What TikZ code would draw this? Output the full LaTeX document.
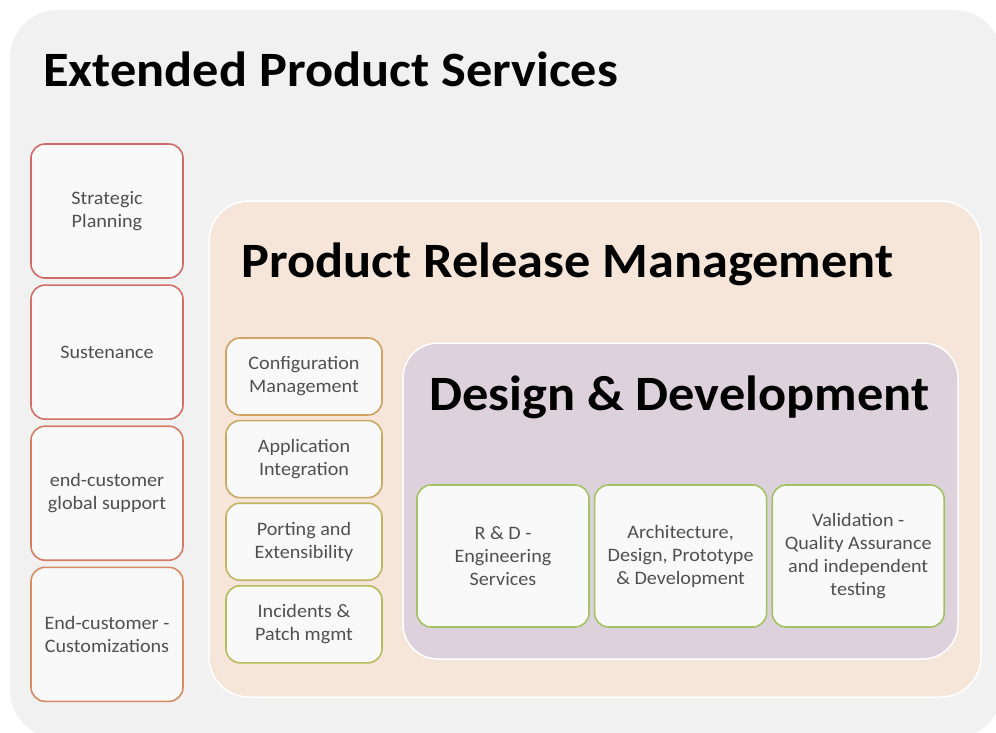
\documentclass[tikz,border=0pt]{standalone}
\usepackage{fontspec}
\setmainfont{Carlito}[FakeStretch=1.06]
\usetikzlibrary{positioning}
\definecolor{extgray}{HTML}{F1F1F1}
\definecolor{peach}{HTML}{F6E5D9}
\definecolor{lilac}{HTML}{DDD1DC}
\definecolor{boxwhite}{HTML}{FAF9F9}
\definecolor{textgray}{HTML}{505050}
\definecolor{redA}{HTML}{D06A68}
\definecolor{redB}{HTML}{D27068}
\definecolor{redC}{HTML}{D47C64}
\definecolor{redD}{HTML}{D78B62}
\definecolor{tanA}{HTML}{D2A062}
\definecolor{tanB}{HTML}{C9AA62}
\definecolor{tanC}{HTML}{C0B462}
\definecolor{tanD}{HTML}{B5BC5E}
\definecolor{leaf}{HTML}{A3C265}

\begin{document}
\begin{tikzpicture}[x=1pt, y=-1pt,
        panel/.style={draw=white, line width=1.5pt},
        task/.style={draw, line width=1.6pt, fill=boxwhite, rounded corners=14pt,
                     align=center, text=textgray, inner sep=0pt,
                     font=\fontsize{19}{23}\selectfont},
        side/.style={task, minimum width=152pt, minimum height=134pt},
        stage/.style={task, minimum width=156pt, minimum height=77pt},
        core/.style={task, minimum width=172pt, minimum height=142pt},
        heading/.style={anchor=base west, inner sep=0pt, font=\bfseries\fontsize{49.4}{50}\selectfont}
    ]

    \useasboundingbox (0,0) rectangle (996,732);
    \clip (0,0) rectangle (996,732);

    % panels
    \fill[extgray, rounded corners=48pt] (10,10) rectangle (1002,738);
    \draw[panel, fill=peach, rounded corners=40pt] (209,201) rectangle (981,697);
    \draw[panel, fill=lilac, rounded corners=35pt] (403,343) rectangle (958,659);

    \node[heading] (extTitle) at (43,86) {Extended Product Services};
    \node[heading] (prmTitle) at (241,277) {Product Release Management};
    \node[heading] (ddTitle) at (429,410) {Design \& Development};

    % extended services column
    \node[side, draw=redA] (plan) at (107,211) {Strategic\\Planning};
    \node[side, draw=redB, below=5.5pt of plan] (sust) {Sustenance};
    \node[side, draw=redC, below=5.5pt of sust] (support) {end-customer\\global support};
    \node[side, draw=redD, below=5.5pt of support] (custom) {End-customer -\\Customizations};

    % release management column
    \node[stage, draw=tanA] (config) at (304,376.5) {Configuration\\Management};
    \node[stage, draw=tanB, below=4pt of config] (integ) {Application\\Integration};
    \node[stage, draw=tanC, below=4pt of integ] (port) {Porting and\\Extensibility};
    \node[stage, draw=tanD, below=4pt of port] (patch) {Incidents \&\\Patch mgmt};

    % design & development row
    \node[core, draw=leaf] (rnd) at (503,556) {R \& D -\\Engineering\\Services};
    \node[core, draw=leaf, right=4pt of rnd] (arch) {Architecture,\\Design, Prototype\\\& Development};
    \node[core, draw=leaf, right=4pt of arch] (valid) {Validation -\\Quality Assurance\\and independent\\testing};
\end{tikzpicture}
\end{document}
